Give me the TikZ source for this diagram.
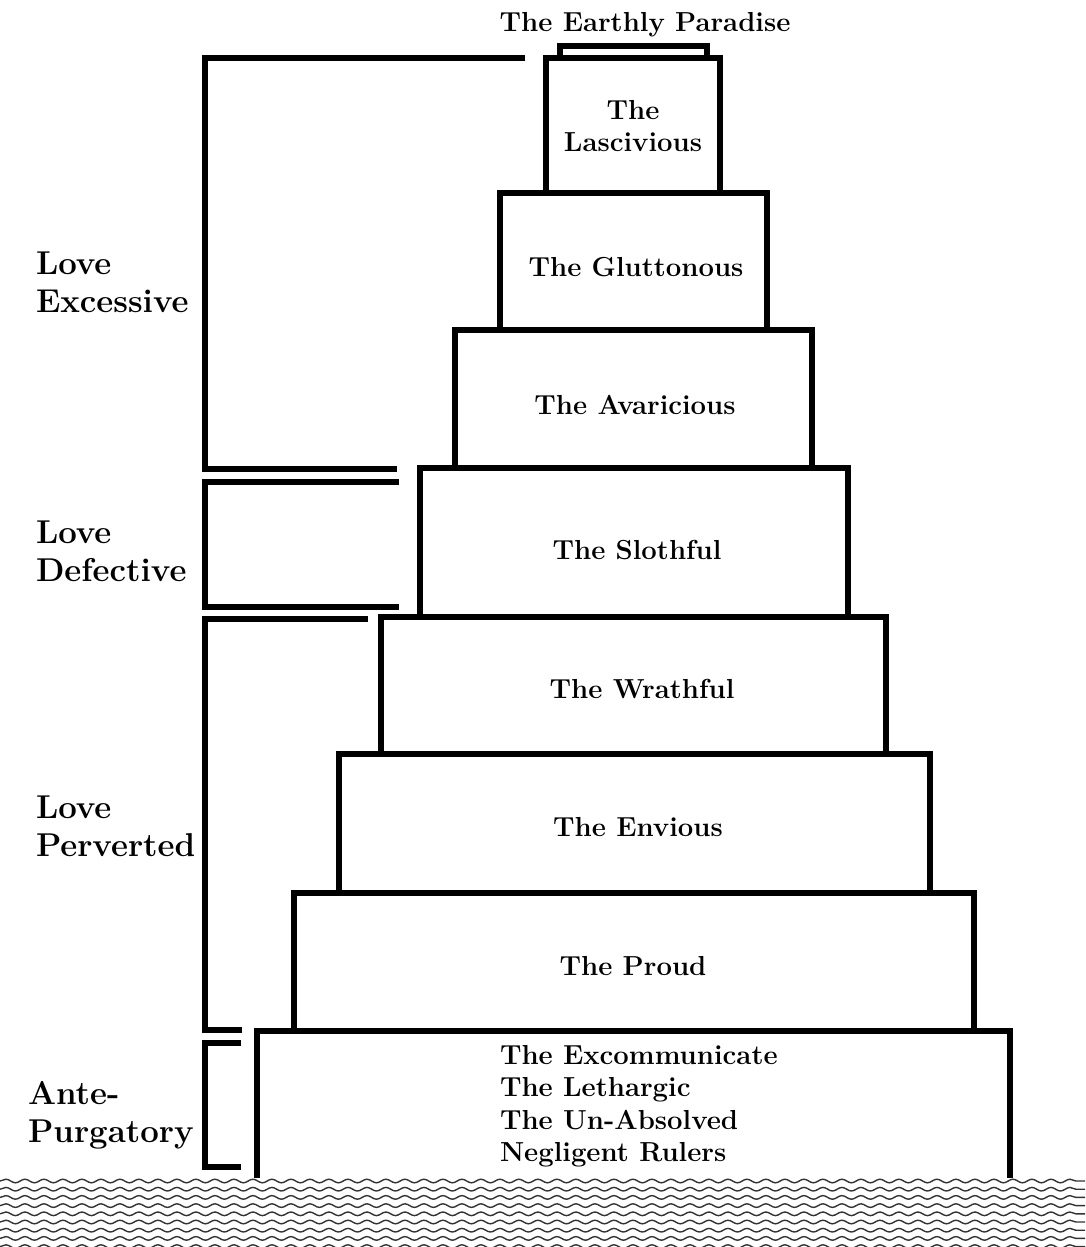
\documentclass[tikz,border=0pt]{standalone}
\usepackage{tikz}
\usetikzlibrary{decorations.pathmorphing}

\begin{document}
\begin{tikzpicture}[x=1pt, y=-1pt, line width=6pt, line join=miter,
    tierlabel/.style={font=\bfseries\fontsize{27.5}{32.5}\selectfont, inner sep=0pt, align=center},
    sidelabel/.style={font=\bfseries\fontsize{33}{38}\selectfont, inner sep=0pt, align=left, anchor=west},
    bracket/.style={line width=6pt},
    wave/.style={line width=1.4pt, black!80, decorate,
        decoration={snake, segment length=19pt, amplitude=1.8pt}}]

    % =================================================================
    % 1. PAGE FRAME
    % =================================================================
    \useasboundingbox (0,0) rectangle (1085,1247);

    % =================================================================
    % 2. THE SEA ROUND THE MOUNTAIN
    % =================================================================
    \foreach \r in {0,...,8}
        \draw[wave] (0,{1181+8.2*\r}) -- (1085,{1181+8.2*\r});

    % =================================================================
    % 3. THE TERRACES, FROM THE SUMMIT DOWN
    % =================================================================
    % Earthly Paradise on the top
    \draw (560,58) -- (560,46.5) -- (707,46.5) -- (707,58);

    % Seven terraces (left, right, top, bottom)
    \foreach \l/\r/\t/\b in {546/720/58/193, 500/767/193/330, 455/812/330/468,
        420/848/468/617, 381/886/617/754, 339/930/754/893, 294/974/893/1031}
        \draw (\l,\t) rectangle (\r,\b);

    % Ante-Purgatory stands in the sea
    \draw (257,1178) -- (257,1031) -- (1010,1031) -- (1010,1178);

    % =================================================================
    % 4. BRACKETS ON THE LEFT
    % =================================================================
    \draw[bracket] (525,58) -- (205,58) -- (205,469) -- (397,469);
    \draw[bracket] (399,482) -- (205,482) -- (205,607) -- (399,607);
    \draw[bracket] (368,619) -- (205,619) -- (205,1030) -- (242,1030);
    \draw[bracket] (241,1043) -- (205,1043) -- (205,1167) -- (241,1167);

    % =================================================================
    % 5. LABELS
    % =================================================================
    \node[tierlabel] (paradise) at (645,25) {The Earthly Paradise};
    \node[tierlabel] (lust) at (633,126) {The\\Lascivious};
    \node[tierlabel] (gluttony) at (636,267) {The Gluttonous};
    \node[tierlabel] (avarice) at (635,405) {The Avaricious};
    \node[tierlabel] (sloth) at (637,550) {The Slothful};
    \node[tierlabel] (wrath) at (642,689) {The Wrathful};
    \node[tierlabel] (envy) at (638,827) {The Envious};
    \node[tierlabel] (pride) at (633,966) {The Proud};
    \node[tierlabel, align=left, anchor=west] (ante) at (497,1106)
        {The Excommunicate\\The Lethargic\\The Un-Absolved\\Negligent Rulers};

    \node[sidelabel] (excessive) at (33,282) {Love\\Excessive};
    \node[sidelabel] (defective) at (33,551) {Love\\Defective};
    \node[sidelabel] (perverted) at (33,826) {Love\\Perverted};
    \node[sidelabel] (antepurg) at (25,1115) {Ante-\\Purgatory};

\end{tikzpicture}
\end{document}
